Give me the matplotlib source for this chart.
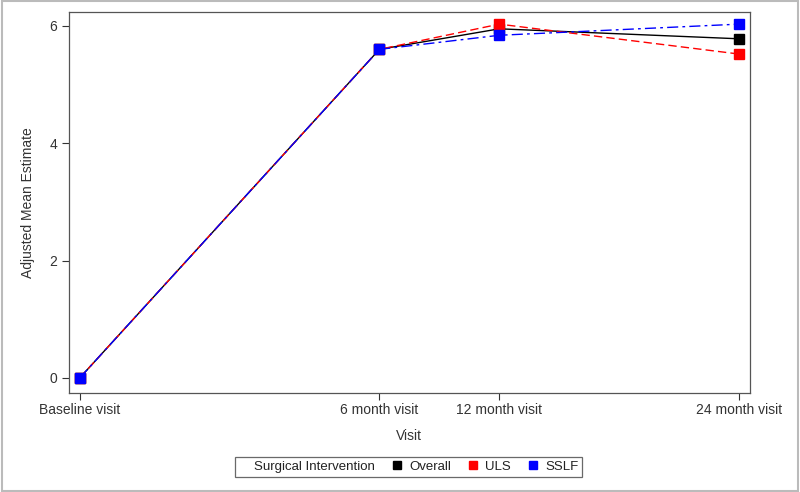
import matplotlib
matplotlib.use("Agg")
import matplotlib.pyplot as plt
from matplotlib.lines import Line2D
from matplotlib.patches import Rectangle

plt.rcParams['font.family'] = ['Liberation Sans', 'DejaVu Sans']

# Visit labels and their time positions (months, as spaced on the original axis)
visits = ["Baseline visit", "6 month visit", "12 month visit", "24 month visit"]
visit_x = [-9, 6, 12, 24]

overall = [0.0, 5.60, 5.95, 5.78]
uls = [0.0, 5.60, 6.03, 5.52]
sslf = [0.0, 5.60, 5.84, 6.03]

series = [
    ("Overall", overall, "black", "-", 1.0),
    ("ULS", uls, "red", (0, (6, 3)), 1.0),
    ("SSLF", sslf, "blue", (0, (8, 3, 2, 3)), 1.0),
]

fig = plt.figure(figsize=(8, 4.92), dpi=100)
ax = fig.add_axes([0.086, 0.201, 0.8515, 0.775])

for name, vals, col, ls, lw in series:
    ax.plot(visit_x, vals, color=col, linestyle=ls, linewidth=lw,
            marker="s", markersize=7.5, markerfacecolor=col,
            markeredgecolor=col, label=name)

ax.set_xlim(-9.55, 24.55)
ax.set_ylim(-0.26, 6.24)
ax.set_xticks(visit_x)
ax.set_xticklabels(visits)
ax.set_yticks([0, 2, 4, 6])
ax.tick_params(colors="#333333", labelsize=10, length=5, width=0.8)
ax.tick_params(axis="x", pad=2)
for s in ax.spines.values():
    s.set_color("#555555")
    s.set_linewidth(0.9)

ax.set_xlabel("Visit", fontsize=10, color="#333333", labelpad=9)
ax.set_ylabel("Adjusted Mean Estimate", fontsize=10, color="#333333", labelpad=10)

handles = [Line2D([], [], linestyle="none", marker=None)]
labels = ["Surgical Intervention"]
for name, vals, col, ls, lw in series:
    handles.append(Line2D([], [], linestyle="none", marker="s", markersize=6,
                          color=col))
    labels.append(name)
leg = fig.legend(handles, labels, loc="center", bbox_to_anchor=(0.511, 0.051),
                 ncol=4, fontsize=9.5, frameon=True, fancybox=False,
                 handlelength=0.4, handletextpad=0.7, columnspacing=1.5,
                 borderpad=0.3, borderaxespad=0, edgecolor="#444444")
leg.get_frame().set_linewidth(0.9)
for t in leg.get_texts():
    t.set_color("#222222")

fig.patches.append(Rectangle((0.002, 0.003), 0.996, 0.994, transform=fig.transFigure,
                             fill=False, edgecolor="#bbbbbb", linewidth=1.5))

fig.savefig("out.png", dpi=100)
